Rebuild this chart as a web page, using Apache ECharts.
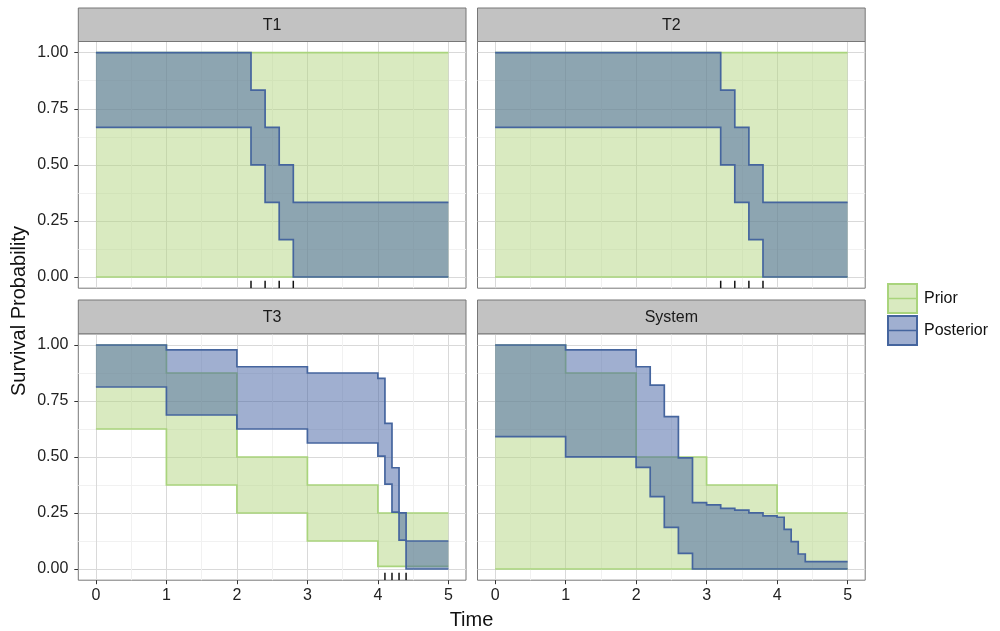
<!DOCTYPE html>
<html><head><meta charset="utf-8">
<script src="https://cdn.jsdelivr.net/npm/echarts@6/dist/echarts.min.js"></script>
<style>html,body{margin:0;padding:0;background:#fff}#c{width:1000px;height:631px}</style>
</head><body><div id="c"></div>
<script>
// ---------- data ----------
const panels = ['T1', 'T2', 'T3', 'System'];
const xMajor = [0, 1, 2, 3, 4, 5];
const xMinor = [0.5, 1.5, 2.5, 3.5, 4.5];
const yMajor = [0, 0.25, 0.5, 0.75, 1];
const yMinor = [0.125, 0.375, 0.625, 0.875];
const xTickLabels = ['0', '1', '2', '3', '4', '5'];
const yTickLabels = ['0.00', '0.25', '0.50', '0.75', '1.00'];
const legendLabels = ['Prior', 'Posterior'];
const xTitle = 'Time';
const yTitle = 'Survival Probability';

// step bands: time has one more entry than values (value i holds on [time i, time i+1))
const t1PriorTime = [0, 5];
const t1PriorUpper = [1];
const t1PriorLower = [0];
const t1PostTime = [0, 2.2, 2.4, 2.6, 2.8, 5];
const t1PostUpper = [1, 0.833, 0.667, 0.5, 0.333];
const t1PostLower = [0.667, 0.5, 0.333, 0.167, 0];
const t1Rug = [2.2, 2.4, 2.6, 2.8];

const t2PriorTime = [0, 5];
const t2PriorUpper = [1];
const t2PriorLower = [0];
const t2PostTime = [0, 3.2, 3.4, 3.6, 3.8, 5];
const t2PostUpper = [1, 0.833, 0.667, 0.5, 0.333];
const t2PostLower = [0.667, 0.5, 0.333, 0.167, 0];
const t2Rug = [3.2, 3.4, 3.6, 3.8];

const t3PriorTime = [0, 1, 2, 3, 4, 5];
const t3PriorUpper = [1, 0.875, 0.5, 0.375, 0.25];
const t3PriorLower = [0.625, 0.375, 0.25, 0.125, 0.012];
const t3PostTime = [0, 1, 2, 3, 4, 4.1, 4.2, 4.3, 4.4, 5];
const t3PostUpper = [1, 0.978, 0.903, 0.875, 0.851, 0.65, 0.452, 0.251, 0.125];
const t3PostLower = [0.8125, 0.6875, 0.625, 0.5625, 0.504, 0.379, 0.254, 0.129, 0];
const t3Rug = [4.1, 4.2, 4.3, 4.4];

const sysPriorTime = [0, 1, 2, 3, 4, 5];
const sysPriorUpper = [1, 0.875, 0.5, 0.375, 0.25];
const sysPriorLower = [0, 0, 0, 0, 0];
const sysPostTime = [0, 1, 2, 2.2, 2.4, 2.6, 2.8, 3, 3.2, 3.4, 3.6, 3.8, 4, 4.1, 4.2, 4.3, 4.4, 5];
const sysPostUpper = [1, 0.978, 0.903, 0.821, 0.680, 0.496, 0.296, 0.286, 0.271, 0.263, 0.251, 0.237, 0.231, 0.177, 0.122, 0.067, 0.033];
const sysPostLower = [0.591, 0.501, 0.454, 0.323, 0.186, 0.070, 0, 0, 0, 0, 0, 0, 0, 0, 0, 0, 0];
const sysRug = [];

// ---------- styling / layout ----------
const FONT = '"Liberation Sans", Arial, Helvetica, sans-serif';
const GREEN_FILL = 'rgba(179,213,129,0.5)';
const GREEN_LINE = '#a9d47c';
const BLUE_FILL = 'rgba(65,95,161,0.5)';
const BLUE_LINE = '#45659e';
const X_MIN = -0.25, X_MAX = 5.25, Y_MIN = -0.05, Y_MAX = 1.05;

const layout = [
  { left: 78.3, top: 41.5, width: 387.7, height: 246.7, stripTop: 8, bottomRow: false, leftCol: true },
  { left: 477.5, top: 41.5, width: 387.7, height: 246.7, stripTop: 8, bottomRow: false, leftCol: false },
  { left: 78.3, top: 333.8, width: 387.7, height: 246.4, stripTop: 300, bottomRow: true, leftCol: true },
  { left: 477.5, top: 333.8, width: 387.7, height: 246.4, stripTop: 300, bottomRow: true, leftCol: false }
];

const panelData = [
  { prior: [t1PriorTime, t1PriorUpper, t1PriorLower], post: [t1PostTime, t1PostUpper, t1PostLower], rug: t1Rug },
  { prior: [t2PriorTime, t2PriorUpper, t2PriorLower], post: [t2PostTime, t2PostUpper, t2PostLower], rug: t2Rug },
  { prior: [t3PriorTime, t3PriorUpper, t3PriorLower], post: [t3PostTime, t3PostUpper, t3PostLower], rug: t3Rug },
  { prior: [sysPriorTime, sysPriorUpper, sysPriorLower], post: [sysPostTime, sysPostUpper, sysPostLower], rug: sysRug }
];

function stepPoints(time, vals) {
  const pts = [];
  for (let i = 0; i < vals.length; i++) {
    pts.push([time[i], vals[i]]);
    pts.push([time[i + 1], vals[i]]);
  }
  return pts;
}

function bandRenderer(band, fill, stroke) {
  const [time, upper, lower] = band;
  return function (params, api) {
    const up = stepPoints(time, upper).map(p => api.coord(p));
    const lo = stepPoints(time, lower).map(p => api.coord(p));
    return {
      type: 'group',
      children: [
        { type: 'polygon', shape: { points: up.concat(lo.slice().reverse()) }, style: { fill: fill, stroke: null } },
        { type: 'polyline', shape: { points: up }, style: { stroke: stroke, lineWidth: 1.7, fill: null } },
        { type: 'polyline', shape: { points: lo }, style: { stroke: stroke, lineWidth: 1.7, fill: null } }
      ]
    };
  };
}

function labelFor(list, labels, v) {
  for (let i = 0; i < list.length; i++) if (Math.abs(list[i] - v) < 1e-9) return labels[i];
  return '';
}

const grids = [], xAxes = [], yAxes = [], series = [], graphics = [];

layout.forEach((L, i) => {
  grids.push({ left: L.left, top: L.top, width: L.width, height: L.height, show: true,
    borderColor: '#777', borderWidth: 1, backgroundColor: 'transparent', outerBoundsMode: 'none', containLabel: false });
  // minor axes (index 2i)
  xAxes.push({ gridIndex: i, type: 'value', min: X_MIN, max: X_MAX, position: 'top',
    axisLine: { show: false, onZero: false }, axisTick: { show: false, customValues: xMinor },
    axisLabel: { show: false, customValues: xMinor },
    splitLine: { show: true, lineStyle: { color: '#f1f1f1', width: 1 } } });
  yAxes.push({ gridIndex: i, type: 'value', min: Y_MIN, max: Y_MAX, position: 'right',
    axisLine: { show: false, onZero: false }, axisTick: { show: false, customValues: yMinor },
    axisLabel: { show: false, customValues: yMinor },
    splitLine: { show: true, lineStyle: { color: '#f1f1f1', width: 1 } } });
  // major axes (index 2i+1)
  xAxes.push({ gridIndex: i, type: 'value', min: X_MIN, max: X_MAX, position: 'bottom',
    axisLine: { show: false, onZero: false },
    axisTick: { show: L.bottomRow, customValues: xMajor, length: 4, lineStyle: { color: '#333', width: 1 } },
    axisLabel: { show: L.bottomRow, customValues: xMajor, margin: 7, color: '#222', fontSize: 16, fontFamily: FONT,
      formatter: v => labelFor(xMajor, xTickLabels, v) },
    splitLine: { show: true, lineStyle: { color: '#d9d9d9', width: 1 } } });
  yAxes.push({ gridIndex: i, type: 'value', min: Y_MIN, max: Y_MAX, position: 'left',
    axisLine: { show: false, onZero: false },
    axisTick: { show: L.leftCol, customValues: yMajor, length: 4, lineStyle: { color: '#333', width: 1 } },
    axisLabel: { show: L.leftCol, customValues: yMajor, margin: 10, color: '#222', fontSize: 16, fontFamily: FONT,
      formatter: v => labelFor(yMajor, yTickLabels, v) },
    splitLine: { show: true, lineStyle: { color: '#d9d9d9', width: 1 } } });

  const D = panelData[i];
  series.push({ type: 'custom', name: legendLabels[0], xAxisIndex: 2 * i + 1, yAxisIndex: 2 * i + 1, clip: true, silent: true,
    z: 2, data: [[0, 0]], renderItem: bandRenderer(D.prior, GREEN_FILL, GREEN_LINE) });
  series.push({ type: 'custom', name: legendLabels[1], xAxisIndex: 2 * i + 1, yAxisIndex: 2 * i + 1, clip: true, silent: true,
    z: 3, data: [[0, 0]], renderItem: bandRenderer(D.post, BLUE_FILL, BLUE_LINE) });
  series.push({ type: 'custom', name: 'rug', xAxisIndex: 2 * i + 1, yAxisIndex: 2 * i + 1, clip: true, silent: true,
    z: 4, data: D.rug.map(t => [t, 0]),
    renderItem: function (params, api) {
      const c = api.coord([api.value(0), Y_MIN]);
      return { type: 'line', shape: { x1: c[0], y1: c[1], x2: c[0], y2: c[1] - 7.5 }, style: { stroke: '#111', lineWidth: 1.5 } };
    } });

  // strip
  graphics.push({ type: 'rect', shape: { x: L.left, y: L.stripTop, width: L.width, height: L.top - L.stripTop },
    style: { fill: '#c2c2c2', stroke: '#777', lineWidth: 1 }, z: 10 });
  graphics.push({ type: 'text', x: L.left + L.width / 2, y: L.stripTop + (L.top - L.stripTop) / 2 + 1,
    style: { text: panels[i], fontSize: 16, fontFamily: FONT, fill: '#1a1a1a', align: 'center', verticalAlign: 'middle',
      textAlign: 'center', textVerticalAlign: 'middle' }, z: 11 });
});

// axis titles
graphics.push({ type: 'text', x: 471.5, y: 620, style: { text: xTitle, fontSize: 20, fontFamily: FONT, fill: '#111',
  align: 'center', verticalAlign: 'middle', textAlign: 'center', textVerticalAlign: 'middle' } });
graphics.push({ type: 'text', x: 19, y: 311, rotation: Math.PI / 2, style: { text: yTitle, fontSize: 20, fontFamily: FONT, fill: '#111',
  align: 'center', verticalAlign: 'middle', textAlign: 'center', textVerticalAlign: 'middle' } });

// legend
const legendKeys = [
  { y: 284, fill: GREEN_FILL, line: GREEN_LINE },
  { y: 316, fill: BLUE_FILL, line: BLUE_LINE }
];
legendKeys.forEach((k, j) => {
  graphics.push({ type: 'rect', shape: { x: 888, y: k.y, width: 29, height: 29 }, style: { fill: k.fill, stroke: k.line, lineWidth: 2 } });
  graphics.push({ type: 'line', shape: { x1: 889, y1: k.y + 14.5, x2: 916, y2: k.y + 14.5 }, style: { stroke: k.line, lineWidth: 1.5 } });
  graphics.push({ type: 'text', x: 924, y: k.y + 15, style: { text: legendLabels[j], fontSize: 16, fontFamily: FONT, fill: '#111',
    align: 'left', verticalAlign: 'middle', textAlign: 'left', textVerticalAlign: 'middle' } });
});

const chart = echarts.init(document.getElementById('c'), null, { renderer: 'canvas' });
chart.setOption({
  animation: false,
  backgroundColor: '#fff',
  grid: grids,
  xAxis: xAxes,
  yAxis: yAxes,
  series: series,
  graphic: { elements: graphics }
});
</script>
</body></html>
